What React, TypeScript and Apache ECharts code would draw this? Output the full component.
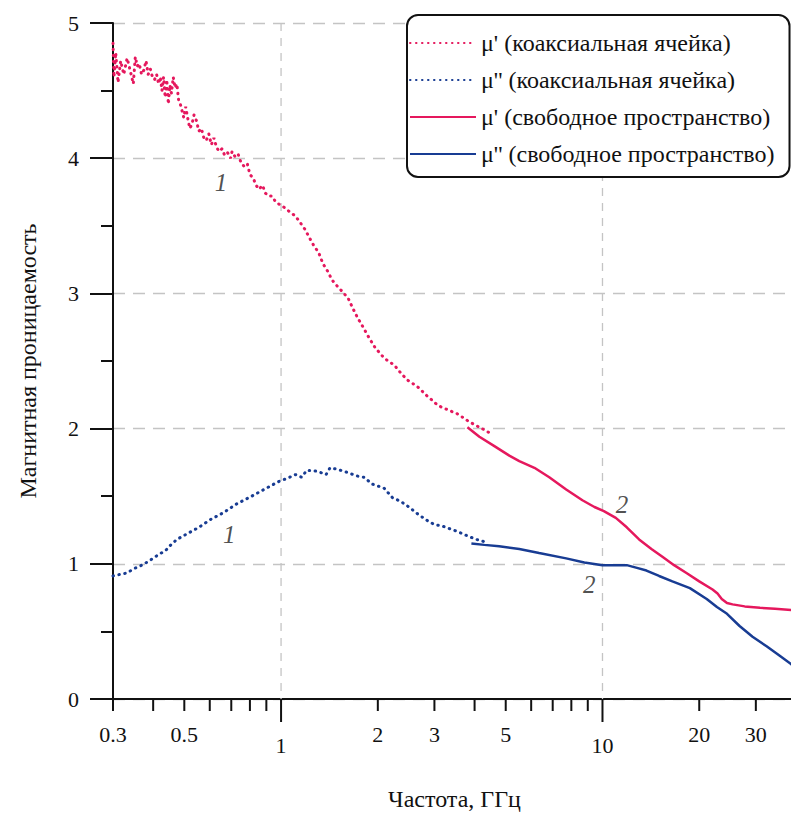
import React, { useEffect, useRef } from "react";
import * as echarts from "echarts";

const FONT = "Liberation Serif";
const PINK = "#e5185d";
const BLUE = "#183c93";

// μ' — coaxial cell (dotted pink)
const coaxMu1Freq = [
  0.300, 0.302, 0.306, 0.311, 0.317, 0.324, 0.332, 0.340, 0.347,
  0.352, 0.357, 0.362, 0.368, 0.374, 0.380, 0.386, 0.392, 0.398, 0.404, 0.410, 0.416, 0.421, 0.426,
  0.431, 0.436, 0.441, 0.446, 0.451, 0.456, 0.462, 0.468, 0.474, 0.480, 0.486, 0.492, 0.498, 0.505,
  0.512, 0.520, 0.528, 0.536, 0.545, 0.555, 0.565, 0.575, 0.585, 0.596, 0.607, 0.618, 0.630, 0.642,
  0.655, 0.668, 0.682, 0.697, 0.704, 0.720, 0.735, 0.750, 0.767, 0.785, 0.800, 0.820, 0.836, 0.854,
  0.875, 0.895, 0.915, 0.937, 0.960, 0.985, 1.007, 1.04, 1.07, 1.11, 1.15, 1.19, 1.22, 1.26, 1.31,
  1.35, 1.40, 1.44, 1.50, 1.57, 1.62, 1.68, 1.73, 1.80, 1.88, 1.96, 2.06, 2.15, 2.25, 2.36, 2.47,
  2.58, 2.69, 2.82, 2.95, 3.08, 3.22, 3.37, 3.53, 3.69, 3.85, 4.00, 4.14, 4.30, 4.44,
];
const coaxMu1Val = [
  4.85, 4.60, 4.78, 4.56, 4.72, 4.62, 4.74, 4.64, 4.55,
  4.75, 4.68, 4.70, 4.62, 4.65, 4.72, 4.62, 4.66, 4.60, 4.58, 4.62, 4.55, 4.60, 4.50,
  4.60, 4.45, 4.58, 4.40, 4.54, 4.48, 4.60, 4.52, 4.55, 4.43, 4.40, 4.35, 4.30, 4.38,
  4.30, 4.22, 4.25, 4.32, 4.28, 4.20, 4.22, 4.15, 4.13, 4.18, 4.10, 4.15, 4.08, 4.05,
  4.07, 4.02, 4.04, 4.00, 4.05, 4.01, 4.03, 3.97, 3.94, 3.96, 3.88, 3.85, 3.80, 3.77,
  3.80, 3.74, 3.72, 3.72, 3.68, 3.66, 3.65, 3.62, 3.60, 3.57, 3.52, 3.47, 3.42, 3.36, 3.30,
  3.22, 3.16, 3.10, 3.05, 3.00, 2.96, 2.88, 2.82, 2.75, 2.67, 2.60, 2.54, 2.50, 2.47, 2.41, 2.36,
  2.33, 2.30, 2.25, 2.21, 2.17, 2.15, 2.13, 2.11, 2.08, 2.05, 2.03, 2.01, 1.99, 1.97,
];

// μ'' — coaxial cell (dotted blue)
const coaxMu2Freq = [
  0.300, 0.313, 0.329, 0.341, 0.353, 0.369, 0.388, 0.411, 0.438, 0.454, 0.474, 0.517, 0.555, 0.606,
  0.664, 0.724, 0.795, 0.854, 0.918, 0.986, 1.04, 1.11, 1.16, 1.20, 1.26, 1.31, 1.38, 1.42, 1.49,
  1.59, 1.72, 1.81, 1.92, 2.09, 2.22, 2.36, 2.50, 2.69, 2.85, 3.00, 3.17, 3.34, 3.53, 3.77, 4.05, 4.35,
];
const coaxMu2Val = [
  0.91, 0.92, 0.93, 0.95, 0.97, 0.99, 1.02, 1.06, 1.10, 1.14, 1.18, 1.23, 1.27, 1.33,
  1.38, 1.44, 1.49, 1.53, 1.57, 1.61, 1.63, 1.66, 1.64, 1.69, 1.69, 1.68, 1.66, 1.71, 1.70,
  1.68, 1.65, 1.64, 1.59, 1.56, 1.49, 1.46, 1.42, 1.36, 1.32, 1.29, 1.28, 1.26, 1.24, 1.21, 1.18, 1.16,
];

// μ' — free space (solid pink)
const freeMu1Freq = [
  3.80, 4.14, 4.61, 5.13, 5.51, 6.14, 6.83, 7.71, 8.66, 9.44, 10.1, 11.0, 11.9, 13.0, 14.2, 15.4,
  16.7, 18.3, 20.0, 22.0, 22.8, 23.5, 24.4, 25.4, 27.7, 30.9, 34.4, 40.0,
];
const freeMu1Val = [
  2.01, 1.94, 1.87, 1.80, 1.76, 1.71, 1.64, 1.55, 1.47, 1.42, 1.39, 1.34, 1.27, 1.18, 1.11, 1.05,
  0.99, 0.93, 0.87, 0.81, 0.78, 0.74, 0.71, 0.70, 0.685, 0.675, 0.667, 0.655,
];

// μ'' — free space (solid blue)
const freeMu2Freq = [
  3.91, 4.29, 4.77, 5.51, 6.35, 7.71, 8.78, 10.0, 10.9, 11.9, 12.8, 13.7, 15.0, 16.5, 18.7, 21.1,
  22.7, 24.4, 26.7, 29.3, 32.4, 35.6, 38.5, 40.0,
];
const freeMu2Val = [
  1.15, 1.14, 1.13, 1.11, 1.08, 1.04, 1.01, 0.99, 0.99, 0.99, 0.97, 0.95, 0.91, 0.87, 0.82, 0.74,
  0.68, 0.63, 0.54, 0.46, 0.39, 0.32, 0.26, 0.23,
];

const seriesNames = [
  "μ' (коаксиальная ячейка)",
  "μ'' (коаксиальная ячейка)",
  "μ' (свободное пространство)",
  "μ'' (свободное пространство)",
];

const xTicks = [0.3, 0.4, 0.5, 0.6, 0.7, 0.8, 0.9, 1, 2, 3, 4, 5, 6, 7, 8, 9, 10, 20, 30, 40];
const xMajorTicks = [1, 10];
const xTickLabels = ["0.3", "0.5", "1", "2", "3", "5", "10", "20", "30"];

const curveLabels = [
  { f: 0.65, v: 3.82, text: "1" },
  { f: 0.69, v: 1.22, text: "1" },
  { f: 11.5, v: 1.44, text: "2" },
  { f: 9.1, v: 0.85, text: "2" },
];

const zip = (a: number[], b: number[]) => a.map((x, i) => [x, b[i]]);

export default function App() {
  const ref = useRef<HTMLDivElement>(null);
  useEffect(() => {
    const chart = echarts.init(ref.current!, null, { renderer: "svg" });
    const dotted = { type: [0.5, 5.5] as any, width: 3, cap: "round" as any };
    const option: any = {
      animation: false,
      grid: { left: 113, right: 4, top: 23, bottom: 113, containLabel: false },
      legend: {
        data: seriesNames,
        orient: "vertical",
        left: 407,
        top: 15,
        itemWidth: 66,
        itemHeight: 14,
        itemGap: 11,
        padding: [15, 15, 10, 2],
        backgroundColor: "#ffffff",
        borderColor: "#111",
        borderWidth: 2,
        borderRadius: 11,
        itemStyle: { opacity: 0 },
        textStyle: { fontFamily: FONT, fontSize: 24, lineHeight: 26, color: "#111" },
      },
      xAxis: {
        type: "log",
        logBase: 10,
        min: 0.3,
        max: 40,
        axisLine: { show: true, onZero: false, lineStyle: { color: "#111", width: 2 } },
        axisTick: { show: false },
        axisLabel: { show: false },
        splitLine: { show: false },
        minorTick: { show: false },
        name: "Частота, ГГц",
        nameLocation: "middle",
        nameGap: 88,
        nameTextStyle: { fontFamily: FONT, fontSize: 24, color: "#111" },
      },
      yAxis: {
        type: "value",
        min: 0,
        max: 5,
        interval: 1,
        axisLine: { show: true, lineStyle: { color: "#111", width: 2 } },
        axisTick: { show: true, length: 23, lineStyle: { color: "#111", width: 2 } },
        minorTick: { show: true, splitNumber: 2, length: 12, lineStyle: { color: "#111", width: 2 } },
        axisLabel: { fontFamily: FONT, fontSize: 22, margin: 34, color: "#111" },
        splitLine: { show: true, lineStyle: { color: "#c4c4c4", width: 1.3, type: [12, 8] } },
        name: "Магнитная проницаемость",
        nameLocation: "middle",
        nameRotate: 90,
        nameGap: 73,
        nameTextStyle: { fontFamily: FONT, fontSize: 24, color: "#111" },
      },
      series: [
        {
          type: "custom",
          name: "ticks",
          silent: true,
          z: 1,
          data: xTicks.map((v) => [v, 0]),
          renderItem: (params: any, api: any) => {
            const v = api.value(0);
            const major = xMajorTicks.indexOf(v) >= 0;
            const p = api.coord([v, 0]);
            const children: any[] = [];
            if (major) {
              const top = api.coord([v, 5]);
              children.push({
                type: "line",
                shape: { x1: p[0], y1: top[1], x2: p[0], y2: p[1] },
                style: { stroke: "#c4c4c4", lineWidth: 1.3, lineDash: [8, 7] },
              });
            }
            children.push({
              type: "line",
              shape: { x1: p[0], y1: p[1], x2: p[0], y2: p[1] + (major ? 23 : 12) },
              style: { stroke: "#111", lineWidth: 2 },
            });
            const lbl = xTickLabels.find((t) => parseFloat(t) === v);
            if (lbl) {
              children.push({
                type: "text",
                x: p[0],
                y: p[1] + (major ? 46 : 35),
                style: {
                  text: lbl,
                  fill: "#111",
                  fontFamily: FONT,
                  fontSize: 22,
                  align: "center",
                  verticalAlign: "middle",
                },
              });
            }
            return { type: "group", children };
          },
        },
        {
          type: "line",
          name: seriesNames[0],
          data: zip(coaxMu1Freq, coaxMu1Val),
          symbol: "none",
          color: PINK,
          lineStyle: { color: PINK, ...dotted },
          z: 3,
        },
        {
          type: "line",
          name: seriesNames[1],
          data: zip(coaxMu2Freq, coaxMu2Val),
          symbol: "none",
          color: BLUE,
          lineStyle: { color: BLUE, ...dotted },
          z: 3,
        },
        {
          type: "line",
          name: seriesNames[2],
          data: zip(freeMu1Freq, freeMu1Val),
          symbol: "none",
          color: PINK,
          lineStyle: { color: PINK, width: 2.5 },
          z: 3,
        },
        {
          type: "line",
          name: seriesNames[3],
          data: zip(freeMu2Freq, freeMu2Val),
          symbol: "none",
          color: BLUE,
          lineStyle: { color: BLUE, width: 2.5 },
          z: 3,
        },
        {
          type: "scatter",
          name: "labels",
          silent: true,
          symbolSize: 0,
          data: curveLabels.map((c) => [c.f, c.v, c.text]),
          label: {
            show: true,
            position: "inside",
            formatter: (p: any) => p.data[2],
            fontFamily: FONT,
            fontStyle: "italic",
            fontSize: 25,
            color: "#222",
          },
          z: 4,
        },
      ],
    };
    chart.setOption(option);
    return () => chart.dispose();
  }, []);
  return (
    <div
      style={{
        position: "absolute",
        left: 0,
        top: 0,
        width: 791,
        height: 816,
        overflow: "hidden",
        background: "#fff",
      }}
    >
      <div ref={ref} style={{ width: 800, height: 816 }} />
    </div>
  );
}
